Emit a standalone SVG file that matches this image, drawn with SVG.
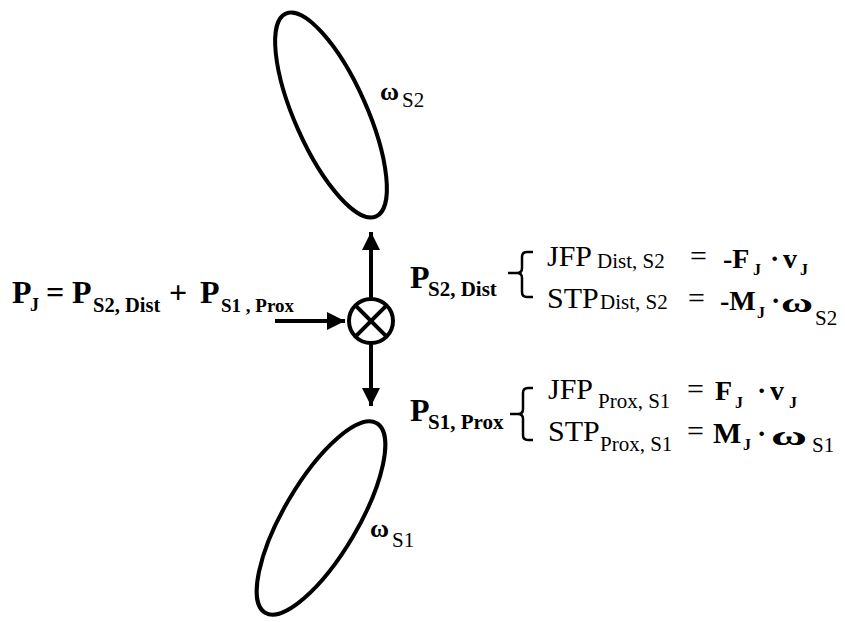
<svg xmlns="http://www.w3.org/2000/svg" width="845" height="622" viewBox="0 0 845 622">
<defs>
<style>
text{font-family:'Liberation Serif','Times New Roman',serif;fill:#000}
.b{font-weight:bold}
.r{font-weight:normal}
.big{font-size:32px}
.sub{font-size:21px}
.eq{font-size:30px}
.v{font-size:28px}
.js{font-size:16px}
.line{stroke:#000;stroke-width:4;fill:none}
.brace{stroke:#000;stroke-width:2.5;fill:none}
</style>
<marker id="ah" viewBox="0 0 10 10" refX="10" refY="5" markerWidth="4.5" markerHeight="4.5" orient="auto" markerUnits="strokeWidth">
<path d="M0,0 L10,5 L0,10 z" fill="#000"/>
</marker>
</defs>
<rect width="845" height="622" fill="#fff"/>

<g id="segment-S2">
<ellipse cx="331" cy="115" rx="111" ry="36" transform="rotate(66 331 115)" class="line"/>
<text class="b" x="380" y="100" font-size="26">ω</text>
<text class="r" x="402" y="107" font-size="21">S2</text>
</g>

<g id="segment-S1">
<ellipse cx="321" cy="518" rx="110" ry="37" transform="rotate(-59.5 321 518)" class="line"/>
<text class="b" x="370" y="537" font-size="26">ω</text>
<text class="r" x="392" y="547" font-size="21">S1</text>
</g>

<g id="joint">
<circle cx="371" cy="321" r="22" class="line"/>
<line x1="355.4" y1="305.4" x2="386.6" y2="336.6" class="line"/>
<line x1="386.6" y1="305.4" x2="355.4" y2="336.6" class="line"/>
</g>

<g id="connectors">
<line x1="275" y1="321" x2="345" y2="321" class="line" marker-end="url(#ah)"/>
<line x1="371" y1="298" x2="371" y2="232" class="line" marker-end="url(#ah)"/>
<line x1="371" y1="344" x2="371" y2="406" class="line" marker-end="url(#ah)"/>
</g>

<g id="joint-power">
<text class="b big" x="12" y="303">P</text>
<text class="b" x="30" y="311" font-size="18">J</text>
<text class="b big" x="46" y="303">=</text>
<text class="b big" x="72" y="303">P</text>
<text class="b" x="93" y="312" font-size="20.5">S2, Dist</text>
<text class="b big" x="169" y="303">+</text>
<text class="b big" x="200" y="303">P</text>
<text class="b" x="221" y="312" font-size="19">S1 , Prox</text>
</g>

<g id="power-S2-dist">
<text class="b big" x="410" y="288">P</text>
<text class="b sub" x="428" y="296">S2, Dist</text>
<path class="brace" d="M533,252 H527 Q522,252 522,257 V268 Q522,273 517,273 H508 M517,273 Q522,273 522,278 V292 Q522,297 527,297 H533"/>
<text class="r eq" x="547" y="266">JFP</text>
<text class="r sub" x="597" y="268">Dist, S2</text>
<text class="r eq" x="690" y="266">=</text>
<text class="b v" x="723" y="268">-F</text>
<text class="b js" x="753" y="275">J</text>
<text class="b v" x="770" y="268">·</text>
<text class="b v" x="783" y="268">v</text>
<text class="b js" x="800" y="275">J</text>
<text class="r eq" x="547" y="308">STP</text>
<text class="r sub" x="600" y="309">Dist, S2</text>
<text class="r eq" x="688" y="308">=</text>
<text class="b v" x="720" y="310">-M</text>
<text class="b js" x="757" y="318">J</text>
<text class="b v" x="771" y="310">·</text>
<text class="b v" x="781" y="312" textLength="32" lengthAdjust="spacingAndGlyphs">ω</text>
<text class="r sub" x="815" y="325">S2</text>
</g>

<g id="power-S1-prox">
<text class="b big" x="410" y="421">P</text>
<text class="b sub" x="428" y="429">S1, Prox</text>
<path class="brace" d="M533,388 H528 Q523,388 523,393 V409 Q523,414 518,414 H510 M518,414 Q523,414 523,419 V435 Q523,440 528,440 H533"/>
<text class="r eq" x="548" y="399">JFP</text>
<text class="r sub" x="598" y="408">Prox, S1</text>
<text class="r eq" x="687" y="399">=</text>
<text class="b v" x="715" y="400">F</text>
<text class="b js" x="735" y="408">J</text>
<text class="b v" x="757" y="400">·</text>
<text class="b v" x="770" y="400">v</text>
<text class="b js" x="789" y="408">J</text>
<text class="r eq" x="548" y="441">STP</text>
<text class="r sub" x="600" y="451">Prox, S1</text>
<text class="r eq" x="687" y="441">=</text>
<text class="b" x="713" y="443" font-size="30">M</text>
<text class="b js" x="743" y="450">J</text>
<text class="b v" x="757" y="443">·</text>
<text class="b v" x="771" y="445" textLength="36" lengthAdjust="spacingAndGlyphs">ω</text>
<text class="r sub" x="812" y="452">S1</text>
</g>
</svg>
